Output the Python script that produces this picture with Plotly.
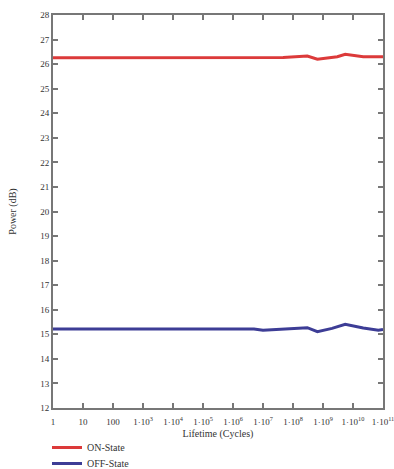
import plotly.graph_objects as go

# Data
on_x = [1, 1e7, 4.7e7, 3e8, 6.5e8, 3e9, 5.5e9, 2.2e10, 1e11]
on_y = [26.26, 26.26, 26.27, 26.33, 26.20, 26.30, 26.40, 26.30, 26.30]
off_x = [1, 5e6, 1e7, 3e8, 6.5e8, 2e9, 5.5e9, 2.2e10, 7e10, 1e11]
off_y = [15.22, 15.22, 15.17, 15.27, 15.11, 15.24, 15.41, 15.26, 15.17, 15.20]

x_tickvals = [1, 10, 100, 1e3, 1e4, 1e5, 1e6, 1e7, 1e8, 1e9, 1e10, 1e11]
x_ticktext = ["1", "10", "100", "1·10<sup>3</sup>", "1·10<sup>4</sup>", "1·10<sup>5</sup>",
              "1·10<sup>6</sup>", "1·10<sup>7</sup>", "1·10<sup>8</sup>", "1·10<sup>9</sup>",
              "1·10<sup>10</sup>", "1·10<sup>11</sup>"]
y_tickvals = list(range(12, 29))

font_family = "Liberation Serif, Times New Roman, serif"
W, H = 394, 469
ML, MR, MT, MB = 53, 11, 15, 61
PW, PH = W - ML - MR, H - MT - MB

fig = go.Figure()
fig.add_trace(go.Scatter(x=on_x, y=on_y, mode="lines", name="ON-State",
                         line=dict(color="#dc3a3a", width=3), legend="legend"))
fig.add_trace(go.Scatter(x=off_x, y=off_y, mode="lines", name="OFF-State",
                         line=dict(color="#3d3d96", width=3), legend="legend2"))

leg_common = dict(xanchor="left", yanchor="top",
                  font=dict(size=10, color="#333333"), bgcolor="rgba(0,0,0,0)",
                  itemwidth=30)

fig.update_layout(
    width=W, height=H,
    margin=dict(l=ML, r=MR, t=MT, b=MB, autoexpand=False),
    plot_bgcolor="white", paper_bgcolor="white",
    font=dict(family=font_family, size=9, color="#333333"),
    showlegend=True,
    legend=dict(x=(47 - ML) / PW, y=(H - MB - 433) / PH, **leg_common),
    legend2=dict(x=(47 - ML) / PW, y=(H - MB - 449) / PH, **leg_common),
    xaxis=dict(type="log", range=[0, 11], tickvals=x_tickvals, ticktext=x_ticktext,
               automargin=True, tickfont=dict(size=9), tickangle=0,
               ticklabeloverflow="allow", ticklabelstandoff=4,
               ticks="inside", ticklen=5, tickcolor="#777777", tickwidth=1.5,
               showline=True, linecolor="#777777", linewidth=2, mirror="ticks",
               showgrid=False, zeroline=False,
               title=dict(text="Lifetime (Cycles)", standoff=4, font=dict(size=10))),
    yaxis=dict(range=[12, 28], tickvals=y_tickvals, automargin=True,
               tickfont=dict(size=9),
               ticks="inside", ticklen=5, tickcolor="#777777", tickwidth=1.5,
               showline=True, linecolor="#777777", linewidth=2, mirror="ticks",
               showgrid=False, zeroline=False,
               title=dict(text="Power (dB)", standoff=22, font=dict(size=10))),
)

fig.write_html("out.html", config={"displayModeBar": False},
               post_script="document.body.style.margin='0';document.body.style.overflow='hidden';")
